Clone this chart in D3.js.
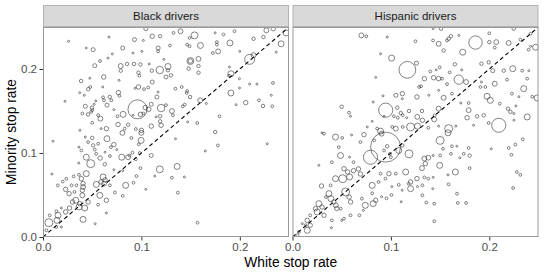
<!DOCTYPE html>
<html>
<head>
<meta charset="utf-8">
<script src="https://cdn.jsdelivr.net/npm/d3@7"></script>
<style>
  body { margin: 0; background: #fff; }
  svg { display: block; font-family: "Liberation Sans", Arial, sans-serif; }
</style>
</head>
<body>
<div id="chart"></div>
<script>
// facets
const facets = ["Black drivers", "Hispanic drivers"];
const xTicks = [0, 0.1, 0.2];
const yTicks = [0, 0.1, 0.2];

// [white rate, minority rate, relative population]
const blackPoints = [
  [0.1045,0.248,4],[0.026,0.233,1],[0.067,0.238,1],[0.093,0.235,4],[0.102,0.234,1],[0.111,0.239,5],
  [0.119,0.239,3],[0.044,0.225,1],[0.051,0.223,4],[0.081,0.225,4],[0.0705,0.218,1],[0.0915,0.219,1],
  [0.1004,0.221,1],[0.117,0.225,4],[0.117,0.221,2],[0.066,0.213,1],[0.058,0.2095,2],[0.0526,0.204,4],
  [0.079,0.2036,6],[0.079,0.198,3],[0.0855,0.206,3],[0.0926,0.206,3],[0.099,0.2055,3],[0.108,0.206,1],
  [0.1106,0.198,3],[0.1187,0.1988,14],[0.1228,0.2115,1],[0.097,0.1956,3],[0.098,0.192,2],[0.0617,0.1905,5],
  [0.0475,0.189,1],[0.0387,0.1857,3],[0.0773,0.1865,1],[0.111,0.1845,4],[0.048,0.1786,2],[0.046,0.176,3],
  [0.0607,0.1786,1],[0.097,0.1786,5],[0.0936,0.177,1],[0.1027,0.176,2],[0.107,0.178,2],[0.0766,0.172,5],
  [0.0777,0.168,2],[0.0373,0.1718,1],[0.042,0.1687,1],[0.117,0.1726,1],[0.1157,0.1667,4],[0.061,0.1663,2],
  [0.0678,0.1667,3],[0.0695,0.1627,2],[0.062,0.1627,2],[0.0536,0.162,1],[0.052,0.158,1],[0.0224,0.1615,1],
  [0.065,0.157,4],[0.043,0.1556,4],[0.0498,0.154,3],[0.05,0.151,2],[0.072,0.1516,1],[0.096,0.152,90],
  [0.104,0.154,5],[0.1075,0.152,5],[0.110,0.158,4],[0.120,0.1535,14],[0.099,0.146,5],[0.102,0.147,2],
  [0.0916,0.145,1],[0.0814,0.146,9],[0.0756,0.1437,2],[0.040,0.147,2],[0.0458,0.146,3],[0.049,0.149,2],
  [0.0583,0.1409,6],[0.056,0.145,2],[0.119,0.1437,3],[0.115,0.143,1],[0.119,0.1377,3],[0.050,0.136,2],
  [0.0763,0.134,5],[0.0865,0.1337,3],[0.110,0.132,5],[0.0644,0.129,5],[0.059,0.129,1],[0.0943,0.1286,2],
  [0.100,0.127,5],[0.083,0.129,2],[0.120,0.133,5],[0.0375,0.127,1],
  [0.1397,0.245,6],[0.1326,0.243,2],[0.154,0.240,12],[0.149,0.237,2],[0.175,0.243,1],[0.1834,0.241,2],
  [0.1946,0.245,2],[0.227,0.246,6],[0.234,0.248,5],[0.224,0.238,3],[0.214,0.236,3],[0.247,0.243,9],
  [0.129,0.228,2],[0.1465,0.229,2],[0.149,0.227,2],[0.160,0.228,9],[0.1767,0.232,2],[0.1767,0.229,2],
  [0.190,0.231,9],[0.178,0.221,6],[0.1726,0.219,2],[0.200,0.221,1],[0.242,0.230,9],[0.237,0.220,1],
  [0.214,0.2165,6],[0.210,0.2115,25],[0.1498,0.2095,12],[0.1498,0.2095,5],[0.158,0.212,6],[0.158,0.2036,3],
  [0.148,0.2004,3],[0.127,0.203,9],[0.127,0.1985,3],[0.130,0.1925,3],[0.125,0.1905,4],[0.158,0.1956,3],
  [0.1895,0.2024,1],[0.191,0.1944,9],[0.189,0.192,2],[0.1996,0.1884,1],[0.210,0.182,1],[0.2174,0.182,1],
  [0.2337,0.1833,2],[0.1997,0.1774,1],[0.191,0.1714,9],[0.1346,0.1766,2],[0.141,0.1786,2],[0.1465,0.1738,2],
  [0.146,0.1715,2],[0.1495,0.1667,3],[0.1597,0.1627,6],[0.166,0.159,1],[0.142,0.1556,2],[0.144,0.1576,2],
  [0.131,0.150,6],[0.132,0.145,2],[0.125,0.157,2],[0.1963,0.1575,1],[0.206,0.160,5],[0.2235,0.156,3],
  [0.233,0.1556,2],[0.2195,0.1627,2],[0.232,0.1687,1],[0.1794,0.1437,2],[0.1567,0.1357,2],[0.147,0.137,1],
  [0.175,0.125,3],
  [0.0102,0.114,1],[0.043,0.119,1],[0.050,0.118,3],[0.0458,0.113,2],[0.051,0.109,3],[0.056,0.111,2],
  [0.065,0.117,9],[0.0807,0.124,6],[0.0898,0.118,2],[0.100,0.124,6],[0.0997,0.115,9],[0.0973,0.1104,2],
  [0.072,0.110,5],[0.069,0.107,2],[0.075,0.104,1],[0.0366,0.107,1],[0.039,0.103,2],[0.0526,0.104,2],
  [0.054,0.099,2],[0.063,0.101,1],[0.044,0.095,9],[0.058,0.094,5],[0.0485,0.0873,16],[0.0363,0.088,1],
  [0.0628,0.0865,3],[0.068,0.0964,2],[0.080,0.095,9],[0.0865,0.095,6],[0.088,0.097,2],[0.0909,0.1004,2],
  [0.0943,0.0925,2],[0.0983,0.100,2],[0.110,0.097,4],[0.1187,0.0806,12],[0.1136,0.0726,1],[0.1045,0.0567,1],
  [0.084,0.0615,9],[0.092,0.0646,2],[0.099,0.082,2],[0.095,0.0726,2],[0.072,0.080,1],[0.081,0.079,1],
  [0.061,0.0714,9],[0.0542,0.0627,9],[0.062,0.0635,6],[0.059,0.0655,5],[0.063,0.068,5],[0.0577,0.0496,9],
  [0.044,0.0754,9],[0.0366,0.074,2],[0.0312,0.0722,2],[0.039,0.0694,5],[0.0407,0.0635,5],[0.0407,0.0595,6],
  [0.040,0.0556,5],[0.040,0.0496,6],[0.034,0.0615,2],[0.029,0.0615,2],[0.0237,0.0694,2],[0.020,0.066,2],
  [0.023,0.0567,5],[0.0265,0.0516,5],[0.032,0.0536,2],[0.0333,0.0437,9],[0.030,0.0417,5],[0.0373,0.0397,5],
  [0.0366,0.0357,9],[0.0424,0.0345,9],[0.0458,0.0417,5],[0.027,0.0345,5],[0.023,0.0298,5],[0.0187,0.0345,1],
  [0.0136,0.0306,2],[0.0153,0.0258,9],[0.0068,0.0258,2],[0.006,0.017,16],[0.0142,0.0198,9],[0.0136,0.0119,2],
  [0.0187,0.0119,1],[0.0034,0.008,2],[0.0407,0.021,9],[0.053,0.0158,1],[0.0644,0.0286,1],[0.056,0.0385,2],
  [0.0644,0.0437,5],[0.073,0.053,2],[0.081,0.049,2],[0.068,0.0615,2],[0.009,0.075,1],[0.015,0.0615,2],
  [0.1346,0.117,1],[0.1777,0.109,2],[0.165,0.1024,1],[0.2279,0.111,1],[0.1363,0.084,9],[0.131,0.0706,2],
  [0.1437,0.0714,1],[0.137,0.0527,2],[0.157,0.017,2]
];

const hispanicPoints = [
  [0.070,0.240,6],[0.075,0.239,2],[0.0963,0.238,1],[0.0895,0.218,1],[0.1007,0.213,9],[0.1167,0.199,70],
  [0.0845,0.190,1],[0.125,0.233,2],[0.1116,0.1706,5],[0.105,0.1687,4],[0.1116,0.1646,1],[0.092,0.168,1],
  [0.082,0.1607,1],[0.050,0.155,3],[0.0574,0.148,2],[0.059,0.1437,1],[0.0947,0.151,50],[0.1065,0.154,3],
  [0.110,0.1476,3],[0.112,0.145,2],[0.1184,0.150,3],[0.103,0.1437,2],[0.107,0.142,2],[0.116,0.142,1],
  [0.093,0.1437,1],[0.081,0.1377,1],[0.076,0.131,1],[0.0895,0.126,9],[0.086,0.129,2],[0.1014,0.131,2],
  [0.105,0.129,6],[0.112,0.131,2],[0.120,0.131,16],[0.127,0.132,9],[0.030,0.124,1],
  [0.151,0.248,3],[0.143,0.248,1],[0.1587,0.236,3],[0.161,0.239,3],[0.157,0.234,2],[0.169,0.240,1],
  [0.1428,0.234,2],[0.1485,0.230,6],[0.1536,0.222,3],[0.186,0.2315,45],[0.200,0.2425,2],[0.200,0.232,3],
  [0.207,0.232,6],[0.2055,0.2254,2],[0.2197,0.231,6],[0.2248,0.248,3],[0.2316,0.235,2],[0.2418,0.242,2],
  [0.247,0.226,9],[0.242,0.227,1],[0.240,0.223,2],[0.173,0.220,9],[0.126,0.207,4],[0.140,0.197,2],
  [0.146,0.199,1],[0.1496,0.202,2],[0.1597,0.196,2],[0.165,0.2056,3],[0.172,0.199,1],[0.192,0.2063,3],
  [0.1994,0.208,3],[0.2035,0.198,4],[0.2147,0.198,3],[0.2238,0.2004,9],[0.2334,0.198,2],[0.2402,0.198,1],
  [0.2385,0.1885,2],[0.218,0.1873,2],[0.134,0.1885,5],[0.1434,0.1896,5],[0.1485,0.1885,5],[0.152,0.1885,2],
  [0.169,0.1873,22],[0.1764,0.1845,6],[0.192,0.1845,1],[0.1306,0.1794,2],[0.1485,0.1746,1],[0.157,0.182,2],
  [0.191,0.1786,2],[0.196,0.1786,2],[0.2055,0.1825,6],[0.235,0.1766,9],[0.223,0.1706,2],[0.230,0.167,1],
  [0.2436,0.167,2],[0.2486,0.1655,9],[0.1287,0.1786,2],[0.1265,0.1667,5],[0.1385,0.1687,1],[0.1536,0.1658,6],
  [0.162,0.1706,2],[0.1977,0.1675,9],[0.201,0.1627,9],[0.179,0.1595,2],[0.171,0.1595,1],[0.2106,0.1587,2],
  [0.219,0.1528,3],[0.2215,0.149,3],[0.225,0.147,1],[0.227,0.156,1],[0.2385,0.1429,9],[0.179,0.151,6],
  [0.1876,0.1437,3],[0.1774,0.142,5],[0.1943,0.1449,3],[0.1994,0.1357,2],[0.2096,0.133,50],[0.225,0.139,1],
  [0.1316,0.150,3],[0.1485,0.1528,6],[0.1444,0.1449,2],[0.1485,0.132,1],[0.1587,0.129,16],[0.138,0.130,2],
  [0.166,0.132,1],[0.184,0.133,1],
  [0.032,0.123,2],[0.0437,0.119,9],[0.0505,0.118,2],[0.060,0.1215,1],[0.0726,0.1218,5],[0.0905,0.123,6],
  [0.069,0.113,2],[0.083,0.115,2],[0.0946,0.107,225],[0.0793,0.095,50],[0.1116,0.109,3],[0.108,0.103,9],
  [0.1184,0.099,16],[0.0962,0.108,3],[0.093,0.103,2],[0.099,0.099,2],[0.100,0.095,2],[0.047,0.107,2],
  [0.0488,0.097,9],[0.040,0.089,2],[0.0268,0.0853,1],[0.058,0.095,1],[0.062,0.089,2],[0.0523,0.0813,5],
  [0.056,0.0774,5],[0.062,0.079,5],[0.067,0.081,5],[0.069,0.075,5],[0.058,0.0715,9],[0.0437,0.0694,9],
  [0.051,0.0694,16],[0.0387,0.0615,2],[0.0295,0.0607,5],[0.037,0.0516,9],[0.039,0.0457,9],[0.042,0.0417,5],
  [0.044,0.0377,6],[0.045,0.034,5],[0.034,0.0476,2],[0.0268,0.0397,9],[0.0234,0.0337,5],[0.030,0.0357,5],
  [0.025,0.0298,9],[0.032,0.0258,5],[0.018,0.0258,2],[0.015,0.0198,5],[0.0133,0.014,2],[0.010,0.016,1],
  [0.018,0.014,5],[0.015,0.008,9],[0.0065,0.006,2],[0.005,0.002,2],[0.054,0.0536,16],[0.0575,0.0476,5],
  [0.059,0.0417,5],[0.049,0.0337,2],[0.0523,0.0218,2],[0.059,0.0258,2],[0.040,0.0198,2],[0.0395,0.011,1],
  [0.050,0.0198,1],[0.0705,0.0457,2],[0.072,0.0317,1],[0.082,0.0397,9],[0.0845,0.0437,5],[0.081,0.052,2],
  [0.0905,0.048,1],[0.0955,0.046,2],[0.1005,0.050,2],[0.1105,0.042,1],[0.081,0.0615,9],[0.0875,0.0655,2],
  [0.0945,0.0694,2],[0.0895,0.0754,2],[0.098,0.0754,5],[0.105,0.0754,2],[0.115,0.0774,9],[0.120,0.0655,5],
  [0.120,0.0575,9],[0.118,0.0635,2],[0.108,0.062,2],[0.101,0.060,1],[0.1115,0.0556,1],[0.074,0.0377,9],
  [0.068,0.0258,2],
  [0.1268,0.143,6],[0.132,0.139,5],[0.144,0.140,6],[0.150,0.115,16],[0.158,0.124,9],[0.153,0.105,2],
  [0.162,0.108,2],[0.167,0.108,1],[0.179,0.106,2],[0.202,0.105,1],[0.2197,0.106,2],[0.2265,0.110,2],
  [0.234,0.1163,2],[0.2225,0.098,2],[0.161,0.099,2],[0.174,0.099,2],[0.180,0.097,3],[0.170,0.0944,1],
  [0.150,0.097,2],[0.143,0.097,1],[0.138,0.0944,6],[0.134,0.0934,6],[0.135,0.0873,5],[0.1316,0.082,6],
  [0.1496,0.0853,9],[0.1655,0.0774,9],[0.180,0.082,2],[0.158,0.074,1],[0.228,0.0774,2],[0.2315,0.074,2],
  [0.1265,0.0695,5],[0.134,0.071,2],[0.138,0.0694,2],[0.143,0.071,1],[0.1587,0.0627,2],[0.132,0.0615,2],
  [0.127,0.060,1],[0.1425,0.0575,1],[0.2242,0.0583,2],[0.1672,0.0516,2],[0.132,0.0496,2],[0.136,0.041,2],
  [0.144,0.0397,2],[0.168,0.0405,2],[0.1764,0.0405,2],[0.144,0.0187,2]
];

const panelData = [blackPoints, hispanicPoints];

function init() {
    const width = 545, height = 273;
    const left = 43, top = 27, stripH = 22;
    const panelW = 246, panelH = 210, gap = 3.5;

    const svg = d3.select("#chart").append("svg")
                  .attr("width", width)
                  .attr("height", height);

    const x = d3.scaleLinear().domain([0, 0.25]).range([0, panelW]);
    const y = d3.scaleLinear().domain([0, 0.25]).range([panelH, 0]);
    const r = d3.scaleSqrt().domain([0, 225]).range([0, 15]);

    facets.forEach((name, i) => {
        const g = svg.append("g")
                     .attr("transform", `translate(${left + i * (panelW + gap)},${top})`);

        g.append("clipPath").attr("id", "clip" + i)
         .append("rect").attr("width", panelW).attr("height", panelH);

        // strip
        g.append("rect")
         .attr("x", 0.5).attr("y", -stripH + 0.5)
         .attr("width", panelW - 1).attr("height", stripH - 1)
         .attr("fill", "#d9d9d9")
         .attr("stroke", "#b3b3b3");
        g.append("text")
         .attr("x", panelW / 2).attr("y", -stripH / 2)
         .attr("dy", "0.36em")
         .attr("text-anchor", "middle")
         .style("font-size", "11.5px")
         .style("fill", "#1a1a1a")
         .text(name);

        const plot = g.append("g").attr("clip-path", `url(#clip${i})`);

        plot.selectAll("circle")
            .data(panelData[i])
            .enter()
            .append("circle")
            .attr("cx", d => x(d[0]))
            .attr("cy", d => y(d[1]))
            .attr("r", d => r(d[2]))
            .attr("fill", "none")
            .attr("stroke", "#333333")
            .attr("stroke-width", 0.6);

        // y = x reference line
        const diag = x.domain();
        plot.append("line")
            .attr("x1", x(diag[0])).attr("y1", y(diag[0]))
            .attr("x2", x(diag[1])).attr("y2", y(diag[1]))
            .attr("stroke", "#000")
            .attr("stroke-width", 1.1)
            .attr("stroke-dasharray", "4,3");

        // panel border
        g.append("rect")
         .attr("x", 0.5).attr("y", 0.5)
         .attr("width", panelW - 1).attr("height", panelH - 1)
         .attr("fill", "none")
         .attr("stroke", "#999999");

        const xAxis = g.append("g")
                       .attr("transform", `translate(0,${panelH})`)
                       .call(d3.axisBottom(x).tickValues(xTicks)
                               .tickFormat(d3.format(".1f"))
                               .tickSize(3.5).tickPadding(2.5));
        xAxis.select(".domain").remove();
        xAxis.selectAll("line").attr("stroke", "#333");
        xAxis.selectAll("text")
             .style("font-size", "11.5px")
             .style("font-family", "Liberation Sans, Arial, sans-serif")
             .attr("fill", "#4d4d4d");

        if (i === 0) {
            const yAxis = g.append("g")
                           .call(d3.axisLeft(y).tickValues(yTicks)
                                   .tickFormat(d3.format(".1f"))
                                   .tickSize(3.5).tickPadding(2.5));
            yAxis.select(".domain").remove();
            yAxis.selectAll("line").attr("stroke", "#333");
            yAxis.selectAll("text")
                 .style("font-size", "11.5px")
                 .style("font-family", "Liberation Sans, Arial, sans-serif")
                 .attr("fill", "#4d4d4d");
        }
    });

    // axis titles
    svg.append("text")
       .attr("x", left + panelW + gap / 2)
       .attr("y", 267)
       .attr("text-anchor", "middle")
       .style("font-size", "13.8px")
       .style("fill", "#000")
       .text("White stop rate");

    svg.append("text")
       .attr("transform", `translate(16,${top + panelH / 2}) rotate(-90)`)
       .attr("text-anchor", "middle")
       .style("font-size", "13.8px")
       .style("fill", "#000")
       .text("Minority stop rate");
}

window.onload = init;
</script>
</body>
</html>
